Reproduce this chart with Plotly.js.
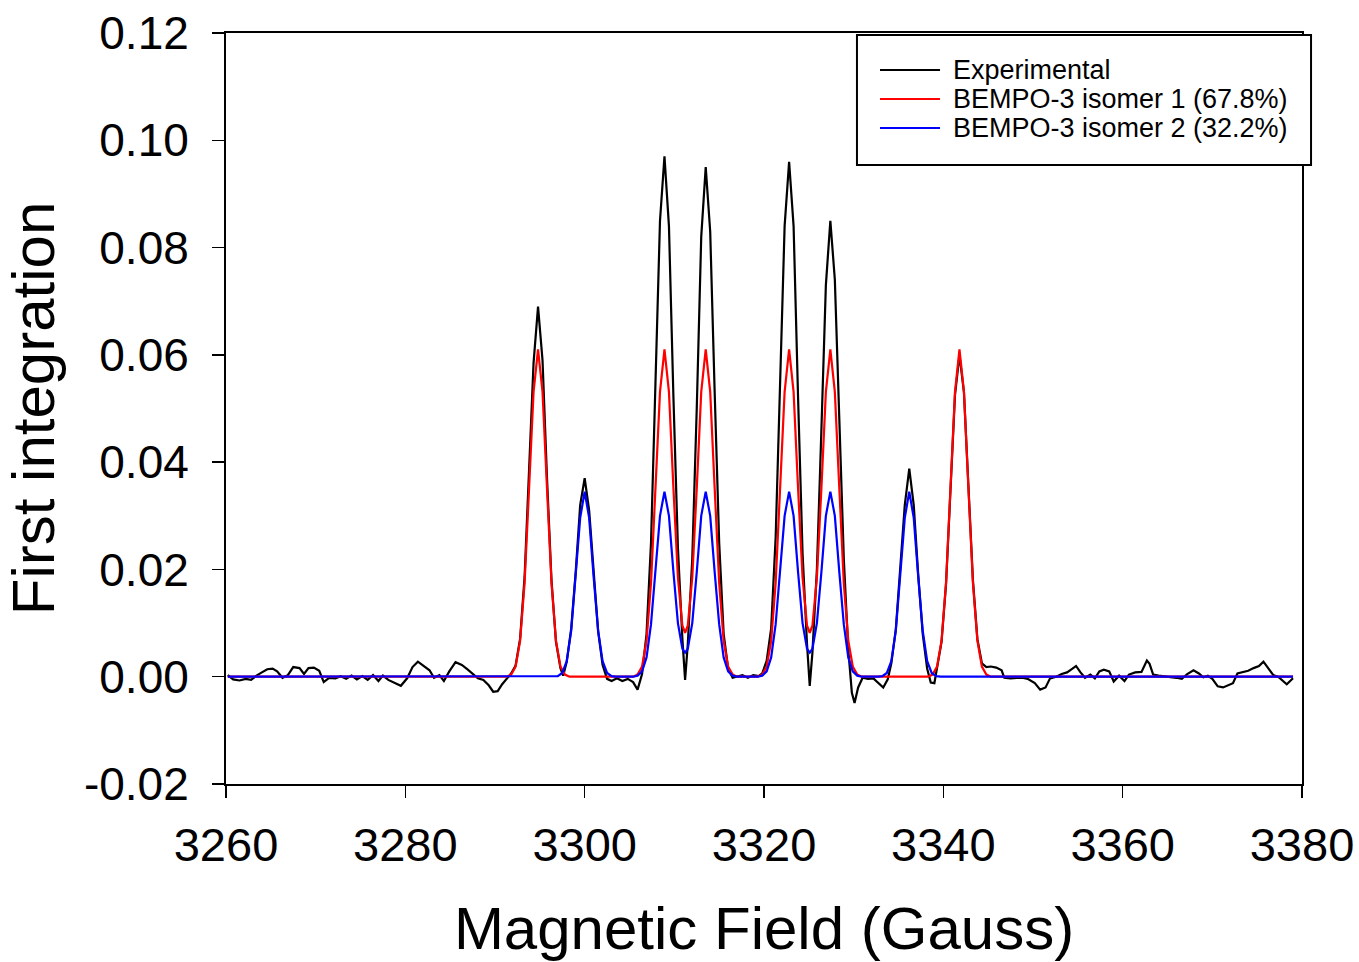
<!DOCTYPE html>
<html>
<head>
<meta charset="utf-8">
<script src="https://cdn.plot.ly/plotly-3.0.1.min.js"></script>
<style>
html, body { margin: 0; padding: 0; background: #ffffff; }
#chart { width: 1359px; height: 962px; }
</style>
</head>
<body>
<div id="chart"></div>
<script>
// ---- Experimental trace (Gauss, first integration) ----
const expField = [
  3260.2, 3260.8, 3261.5, 3262.2, 3262.8, 3263.4, 3264.0, 3264.6, 3265.2, 3265.7,
  3266.3, 3266.9, 3267.5, 3268.2, 3268.7, 3269.2, 3269.8, 3270.4, 3270.9, 3271.5,
  3272.2, 3272.8, 3273.4, 3274.0, 3274.6, 3275.2, 3275.8, 3276.4, 3277.0, 3277.5,
  3278.1, 3278.8, 3279.5, 3280.2, 3280.8, 3281.4, 3282.1, 3282.7, 3283.2, 3283.8,
  3284.3, 3284.9, 3285.6, 3286.3, 3286.9, 3287.5, 3288.1, 3288.7, 3289.3, 3289.8,
  3290.3, 3290.8, 3291.3, 3291.8, 3292.3, 3292.8, 3293.3, 3293.8, 3294.3, 3294.8,
  3295.3, 3295.8, 3296.3, 3296.8, 3297.3, 3297.6, 3298.0, 3298.5, 3299.0, 3299.5,
  3300.0, 3300.5, 3301.0, 3301.5, 3302.0, 3302.5, 3303.0, 3303.6, 3304.2, 3304.8,
  3305.4, 3305.9, 3306.4, 3306.9, 3307.4, 3307.9, 3308.4, 3308.9, 3309.4, 3309.9,
  3310.4, 3310.9, 3311.2, 3311.5, 3312.0, 3312.5, 3313.0, 3313.5, 3314.0, 3314.5,
  3315.0, 3315.5, 3316.0, 3316.5, 3317.0, 3317.6, 3318.2, 3318.8, 3319.4, 3319.8,
  3320.3, 3320.8, 3321.3, 3321.8, 3322.3, 3322.8, 3323.3, 3323.8, 3324.3, 3324.8,
  3325.1, 3325.4, 3325.9, 3326.4, 3326.9, 3327.4, 3327.9, 3328.4, 3328.9, 3329.4,
  3329.8, 3330.1, 3330.5, 3331.0, 3331.6, 3332.2, 3332.8, 3333.3, 3333.8, 3334.2,
  3334.7, 3335.2, 3335.7, 3336.2, 3336.7, 3337.2, 3337.7, 3338.2, 3338.6, 3339.0,
  3339.3, 3339.8, 3340.3, 3340.8, 3341.3, 3341.8, 3342.3, 3342.8, 3343.3, 3343.8,
  3344.3, 3344.8, 3345.3, 3345.9, 3346.5, 3346.8, 3347.5, 3348.2, 3348.8, 3349.4,
  3350.2, 3350.8, 3351.4, 3351.9, 3352.6, 3353.2, 3353.8, 3354.4, 3354.8, 3355.3,
  3355.8, 3356.4, 3356.9, 3357.4, 3357.9, 3358.5, 3359.0, 3359.6, 3360.2, 3360.7,
  3361.4, 3362.1, 3362.7, 3363.0, 3363.4, 3364.0, 3364.6, 3365.3, 3366.0, 3366.6,
  3367.2, 3367.9, 3368.5, 3369.0, 3369.5, 3370.0, 3370.6, 3371.2, 3371.8, 3372.3,
  3372.8, 3373.4, 3374.0, 3374.6, 3375.2, 3375.7, 3376.3, 3376.8, 3377.4, 3377.9,
  3378.3, 3379.0
];
const expSignal = [
  0.0003, -0.0005, -0.0007, -0.0004, -0.0006, 0.0002, 0.0008, 0.0014, 0.0015, 0.0010,
  -0.0002, 0.0003, 0.0018, 0.0016, 0.0005, 0.0016, 0.0017, 0.0011, -0.0010, -0.0002,
  -0.0003, 0.0001, -0.0004, 0.0002, -0.0005, 0.0001, -0.0006, 0.0003, -0.0008, 0.0002,
  -0.0006, -0.0012, -0.0017, -0.0003, 0.0018, 0.0028, 0.0020, 0.0012, -0.0002, 0.0003,
  -0.0008, 0.0010, 0.0027, 0.0022, 0.0014, 0.0005, -0.0003, -0.0006, -0.0016, -0.0028,
  -0.0027, -0.0014, -0.0004, 0.0006, 0.0021, 0.0071, 0.0186, 0.0378, 0.0585, 0.0690,
  0.0590, 0.0370, 0.0180, 0.0065, 0.0016, 0.0002, 0.0028, 0.0090, 0.0195, 0.0320,
  0.0370, 0.0310, 0.0190, 0.0085, 0.0022, -0.0004, -0.0008, -0.0003, -0.0008, -0.0004,
  -0.0010, -0.0024, 0.0005, 0.0080, 0.0250, 0.0540, 0.0850, 0.0970, 0.0840, 0.0520,
  0.0240, 0.0070, -0.0006, 0.0060, 0.0220, 0.0500, 0.0820, 0.0950, 0.0830, 0.0530,
  0.0250, 0.0080, 0.0015, -0.0002, 0.0000, 0.0003, -0.0002, 0.0003, 0.0001, 0.0006,
  0.0030, 0.0090, 0.0260, 0.0540, 0.0840, 0.0960, 0.0840, 0.0520, 0.0230, 0.0060,
  -0.0017, 0.0045, 0.0200, 0.0460, 0.0730, 0.0850, 0.0740, 0.0480, 0.0220, 0.0050,
  -0.0030, -0.0049, -0.0020, -0.0002, -0.0004, -0.0003, -0.0012, -0.0020, -0.0005, 0.0025,
  0.0088, 0.0195, 0.0320, 0.0388, 0.0320, 0.0190, 0.0080, 0.0015, -0.0011, -0.0012,
  0.0015, 0.0065, 0.0172, 0.0345, 0.0525, 0.0600, 0.0530, 0.0355, 0.0180, 0.0070,
  0.0025, 0.0018, 0.0019, 0.0017, 0.0012, -0.0002, -0.0003, -0.0002, -0.0002, -0.0004,
  -0.0012, -0.0024, -0.0020, -0.0003, 0.0000, 0.0005, 0.0008, 0.0015, 0.0020, 0.0008,
  -0.0002, 0.0004, -0.0003, 0.0010, 0.0013, 0.0010, -0.0009, 0.0002, -0.0008, 0.0004,
  0.0008, 0.0009, 0.0030, 0.0024, 0.0004, 0.0002, 0.0001, 0.0000, -0.0002, -0.0004,
  0.0005, 0.0012, 0.0006, -0.0001, 0.0002, -0.0004, -0.0018, -0.0020, -0.0016, -0.0012,
  0.0006, 0.0009, 0.0011, 0.0016, 0.0020, 0.0028, 0.0014, 0.0003, -0.0001, -0.0008,
  -0.0014, -0.0003
];

// ---- Simulated BEMPO-3 isomer 1 (67.8%) ----
const iso1Field = [
  3260.2, 3291.3, 3291.8, 3292.3, 3292.8, 3293.3, 3293.8, 3294.3, 3294.8, 3295.3,
  3295.8, 3296.3, 3296.8, 3297.3, 3297.8, 3298.3, 3305.4, 3305.9, 3306.4, 3306.9,
  3307.4, 3307.9, 3308.4, 3308.9, 3309.4, 3309.9, 3310.4, 3310.9, 3311.2, 3311.5,
  3312.0, 3312.5, 3313.0, 3313.5, 3314.0, 3314.5, 3315.0, 3315.5, 3316.0, 3316.5,
  3317.0, 3319.3, 3319.8, 3320.3, 3320.8, 3321.3, 3321.8, 3322.3, 3322.8, 3323.3,
  3323.8, 3324.3, 3324.8, 3325.1, 3325.4, 3325.9, 3326.4, 3326.9, 3327.4, 3327.9,
  3328.4, 3328.9, 3329.4, 3329.9, 3330.4, 3330.9, 3338.3, 3338.8, 3339.3, 3339.8,
  3340.3, 3340.8, 3341.3, 3341.8, 3342.3, 3342.8, 3343.3, 3343.8, 3344.3, 3344.8,
  3345.3, 3379.0
];
const iso1Signal = [
  0, 0, 0.0004, 0.0019, 0.0067, 0.0175, 0.0351, 0.0531, 0.0610, 0.0531,
  0.0351, 0.0175, 0.0067, 0.0019, 0.0004, 0, 0, 0.0004, 0.0019, 0.0067,
  0.0175, 0.0351, 0.0531, 0.0610, 0.0531, 0.0351, 0.0185, 0.0095, 0.0082, 0.0095,
  0.0185, 0.0351, 0.0531, 0.0610, 0.0531, 0.0351, 0.0175, 0.0067, 0.0019, 0.0004,
  0, 0, 0.0004, 0.0019, 0.0067, 0.0175, 0.0351, 0.0531, 0.0610, 0.0531,
  0.0351, 0.0185, 0.0095, 0.0082, 0.0095, 0.0185, 0.0351, 0.0531, 0.0610, 0.0531,
  0.0351, 0.0175, 0.0067, 0.0019, 0.0004, 0, 0, 0.0004, 0.0019, 0.0067,
  0.0175, 0.0351, 0.0531, 0.0610, 0.0531, 0.0351, 0.0175, 0.0067, 0.0019, 0.0004,
  0, 0
];

// ---- Simulated BEMPO-3 isomer 2 (32.2%) ----
const iso2Field = [
  3260.2, 3296.5, 3297.0, 3297.5, 3298.0, 3298.5, 3299.0, 3299.5, 3300.0, 3300.5,
  3301.0, 3301.5, 3302.0, 3302.5, 3303.0, 3303.5, 3305.4, 3305.9, 3306.4, 3306.9,
  3307.4, 3307.9, 3308.4, 3308.9, 3309.4, 3309.9, 3310.4, 3310.9, 3311.2, 3311.5,
  3312.0, 3312.5, 3313.0, 3313.5, 3314.0, 3314.5, 3315.0, 3315.5, 3316.0, 3316.5,
  3317.0, 3319.3, 3319.8, 3320.3, 3320.8, 3321.3, 3321.8, 3322.3, 3322.8, 3323.3,
  3323.8, 3324.3, 3324.8, 3325.1, 3325.4, 3325.9, 3326.4, 3326.9, 3327.4, 3327.9,
  3328.4, 3328.9, 3329.4, 3329.9, 3330.4, 3330.9, 3332.7, 3333.2, 3333.7, 3334.2,
  3334.7, 3335.2, 3335.7, 3336.2, 3336.7, 3337.2, 3337.7, 3338.2, 3338.7, 3339.2,
  3339.7, 3379.0
];
const iso2Signal = [
  0, 0, 0.0001, 0.0007, 0.0029, 0.0086, 0.0186, 0.0296, 0.0345, 0.0296,
  0.0186, 0.0086, 0.0029, 0.0007, 0.0001, 0, 0, 0.0002, 0.0010, 0.0036,
  0.0098, 0.0195, 0.0300, 0.0345, 0.0300, 0.0195, 0.0100, 0.0052, 0.0045, 0.0052,
  0.0100, 0.0195, 0.0300, 0.0345, 0.0300, 0.0195, 0.0098, 0.0036, 0.0010, 0.0002,
  0, 0, 0.0002, 0.0010, 0.0036, 0.0098, 0.0195, 0.0300, 0.0345, 0.0300,
  0.0195, 0.0100, 0.0052, 0.0045, 0.0052, 0.0100, 0.0195, 0.0300, 0.0345, 0.0300,
  0.0195, 0.0098, 0.0036, 0.0010, 0.0002, 0, 0, 0.0001, 0.0007, 0.0029,
  0.0086, 0.0186, 0.0296, 0.0345, 0.0296, 0.0186, 0.0086, 0.0029, 0.0007, 0.0001,
  0, 0
];

// ---- Axis ticks and labels ----
const xTickVals = [3260, 3280, 3300, 3320, 3340, 3360, 3380];
const xTickText = ["3260", "3280", "3300", "3320", "3340", "3360", "3380"];
const yTickVals = [-0.02, 0.00, 0.02, 0.04, 0.06, 0.08, 0.10, 0.12];
const yTickText = ["-0.02", "0.00", "0.02", "0.04", "0.06", "0.08", "0.10", "0.12"];

const seriesNames = ["Experimental", "BEMPO-3 isomer 1 (67.8%)", "BEMPO-3 isomer 2 (32.2%)"];
const seriesColors = ["#000000", "#ff0000", "#0000ff"];

const FONT = "Liberation Sans, Arial, Helvetica, sans-serif";

const traces = [
  { x: expField, y: expSignal, name: seriesNames[0], type: "scatter", mode: "lines",
    line: { color: seriesColors[0], width: 2.2 } },
  { x: iso1Field, y: iso1Signal, name: seriesNames[1], type: "scatter", mode: "lines",
    line: { color: seriesColors[1], width: 2.2 } },
  { x: iso2Field, y: iso2Signal, name: seriesNames[2], type: "scatter", mode: "lines",
    line: { color: seriesColors[2], width: 2.2 } }
];

// ---- Legend box drawn in paper coordinates (top-right, overlapping the frame) ----
const legendBox = { x0: 0.5864, x1: 1.0084, y0: 0.8242, y1: 0.9973 };
const legendRowY = [0.9507, 0.9121, 0.8735];
const legendLineX = [0.6078, 0.6636];
const legendTextX = 0.6738;

const shapes = [
  { type: "rect", xref: "paper", yref: "paper",
    x0: legendBox.x0, x1: legendBox.x1, y0: legendBox.y0, y1: legendBox.y1,
    fillcolor: "#ffffff", line: { color: "#000000", width: 2 }, layer: "above" }
];
const annotations = [];
seriesNames.forEach(function (name, i) {
  shapes.push({ type: "line", xref: "paper", yref: "paper",
    x0: legendLineX[0], x1: legendLineX[1], y0: legendRowY[i], y1: legendRowY[i],
    line: { color: seriesColors[i], width: 2 }, layer: "above" });
  annotations.push({ xref: "paper", yref: "paper", x: legendTextX, y: legendRowY[i],
    xanchor: "left", yanchor: "middle", showarrow: false, text: name,
    font: { family: FONT, size: 27, color: "#000000" } });
});

const layout = {
  width: 1359, height: 962,
  paper_bgcolor: "#ffffff", plot_bgcolor: "#ffffff",
  margin: { l: 226, r: 57, t: 33, b: 178, pad: 0 },
  font: { family: FONT, color: "#000000" },
  showlegend: false,
  shapes: shapes,
  annotations: annotations,
  xaxis: {
    range: [3260, 3380], tickmode: "array", tickvals: xTickVals, ticktext: xTickText,
    showgrid: false, zeroline: false, showline: true, linecolor: "#000000", linewidth: 2,
    mirror: true, ticks: "outside", ticklen: 12, tickwidth: 1.5, tickcolor: "#000000",
    tickfont: { family: FONT, size: 47, color: "#000000" }, ticklabelstandoff: 7,
    title: { text: "Magnetic Field (Gauss)", font: { family: FONT, size: 60, color: "#000000" }, standoff: 45 }
  },
  yaxis: {
    range: [-0.02, 0.12], tickmode: "array", tickvals: yTickVals, ticktext: yTickText,
    showgrid: false, zeroline: false, showline: true, linecolor: "#000000", linewidth: 2,
    mirror: true, ticks: "outside", ticklen: 12, tickwidth: 1.5, tickcolor: "#000000",
    tickfont: { family: FONT, size: 46, color: "#000000" }, ticklabelstandoff: 14,
    title: { text: "First integration", font: { family: FONT, size: 60, color: "#000000" }, standoff: 30 }
  }
};

Plotly.newPlot("chart", traces, layout, { displayModeBar: false, staticPlot: true });
</script>
</body>
</html>
